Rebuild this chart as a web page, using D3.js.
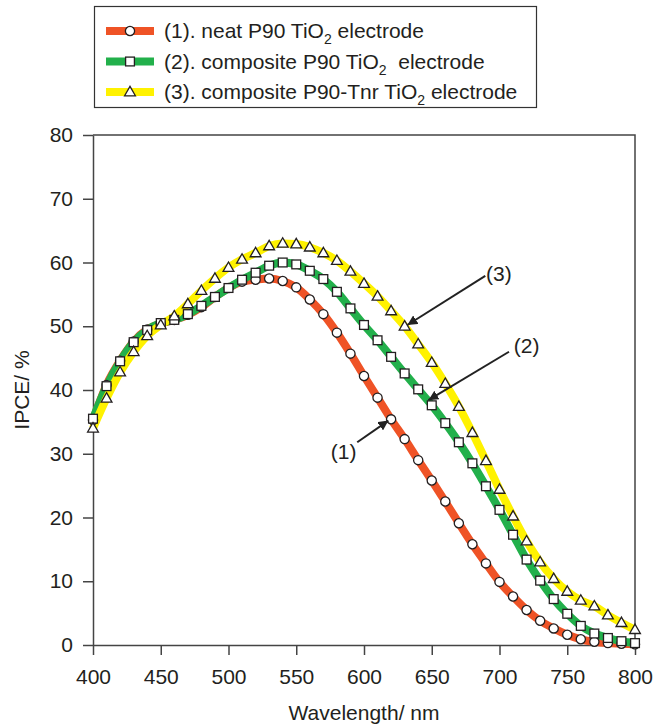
<!DOCTYPE html>
<html>
<head>
<meta charset="utf-8">
<script src="https://cdn.jsdelivr.net/npm/d3@7"></script>
<style>
  body { margin: 0; background: #fff; }
  svg { display: block; font-family: Arial, "Liberation Sans", sans-serif; }
</style>
</head>
<body>
<svg id="chart" width="666" height="725"></svg>
<script>
'use strict';

// wavelength (nm), one point every 10 nm
const wavelengths = [400, 410, 420, 430, 440, 450, 460, 470, 480, 490,
                     500, 510, 520, 530, 540, 550, 560, 570, 580, 590,
                     600, 610, 620, 630, 640, 650, 660, 670, 680, 690,
                     700, 710, 720, 730, 740, 750, 760, 770, 780, 790, 800];

// IPCE (%)
const neatP90 = [35.3, 40.8, 44.6, 47.6, 49.5, 50.4, 51.0, 51.8, 53.0, 54.6,
                 56.0, 57.0, 57.3, 57.5, 57.1, 56.1, 54.2, 51.9, 49.0, 45.7,
                 42.2, 38.8, 35.4, 32.3, 29.0, 25.8, 22.5, 19.1, 15.8, 12.8,
                 9.9, 7.6, 5.5, 3.8, 2.6, 1.6, 0.9, 0.5, 0.3, 0.2, 0.1];

const compositeP90 = [35.5, 40.6, 44.5, 47.5, 49.4, 50.5, 51.0, 51.9, 53.2, 54.6,
                      56.0, 57.3, 58.4, 59.5, 60.0, 59.7, 58.7, 57.4, 55.4, 52.8,
                      50.2, 47.8, 45.2, 42.6, 40.1, 37.6, 34.8, 31.8, 28.5, 24.9,
                      21.2, 17.3, 13.4, 10.1, 7.2, 4.9, 3.0, 1.8, 1.1, 0.6, 0.3];

const compositeTnr = [34.0, 38.7, 42.8, 46.0, 48.5, 50.2, 51.6, 53.5, 55.6, 57.5,
                      59.2, 60.5, 61.5, 62.6, 63.0, 62.9, 62.4, 61.5, 60.3, 58.6,
                      56.7, 54.7, 52.4, 50.0, 47.2, 44.3, 41.0, 37.4, 33.3, 28.9,
                      24.4, 20.2, 16.3, 13.0, 10.4, 8.4, 7.0, 6.1, 4.7, 3.5, 2.4];

const xTicks = [400, 450, 500, 550, 600, 650, 700, 750, 800];
const yTicks = [0, 10, 20, 30, 40, 50, 60, 70, 80];

const series = [
  {key: '1', label: ['(1). neat P90 TiO', '2', ' electrode'],          values: neatP90,      colour: '#ef5326', marker: 'circle'},
  {key: '2', label: ['(2). composite P90 TiO', '2', '  electrode'],    values: compositeP90, colour: '#22b04b', marker: 'square'},
  {key: '3', label: ['(3). composite P90-Tnr TiO', '2', ' electrode'], values: compositeTnr, colour: '#fff200', marker: 'triangle'},
];

// callouts: label position and arrow (from -> to) in data units
const callouts = [
  {text: '(1)', at: [585, 30.4],  from: [595, 31.8],  to: [618, 35.2]},
  {text: '(2)', at: [720, 46.9],  from: [707, 46.0],  to: [647.5, 38.4]},
  {text: '(3)', at: [699.5, 58.2], from: [689.5, 57.9], to: [632, 50.2]},
];

const svg = d3.select('#chart');
const margin = {left: 93, top: 135, right: 31, bottom: 80};
const width = 666 - margin.left - margin.right;
const height = 725 - margin.top - margin.bottom;
const axisColour = '#444';
const textColour = '#231f20';
const fontSize = '21px';

const x = d3.scaleLinear().domain([400, 800]).range([0, width]);
const y = d3.scaleLinear().domain([0, 80]).range([height, 0]);

svg.append('defs').append('marker')
    .attr('id', 'arrow')
    .attr('viewBox', '0 0 10 10')
    .attr('refX', 10).attr('refY', 5)
    .attr('markerWidth', 5).attr('markerHeight', 5)
    .attr('markerUnits', 'strokeWidth')
    .attr('orient', 'auto')
  .append('path')
    .attr('d', 'M0,0L10,5L0,10z')
    .attr('fill', '#222');

const g = svg.append('g')
    .attr('transform', `translate(${margin.left},${margin.top})`);

// frame (top + right)
g.append('path')
    .attr('d', `M0,0H${width}V${height}`)
    .attr('fill', 'none')
    .attr('stroke', axisColour)
    .attr('stroke-width', 1.5);

const xAxis = g.append('g')
    .attr('transform', `translate(0,${height})`)
    .call(d3.axisBottom(x).tickValues(xTicks).tickSize(10).tickSizeOuter(0).tickPadding(14));

const yAxis = g.append('g')
    .call(d3.axisLeft(y).tickValues(yTicks).tickSize(10).tickSizeOuter(0).tickPadding(10));

[xAxis, yAxis].forEach(a => {
  a.select('.domain').attr('stroke', axisColour).attr('stroke-width', 1.5);
  a.selectAll('.tick line').attr('stroke', axisColour).attr('stroke-width', 1.5);
  a.selectAll('.tick text')
      .attr('fill', textColour)
      .style('font-size', fontSize)
      .style('font-family', 'Arial, "Liberation Sans", sans-serif');
});

g.append('text')
    .attr('x', width / 2)
    .attr('y', height + 75)
    .attr('text-anchor', 'middle')
    .attr('fill', textColour)
    .style('font-size', fontSize)
    .text('Wavelength/ nm');

g.append('text')
    .attr('transform', `translate(${-64},${y(40)}) rotate(-90)`)
    .attr('text-anchor', 'middle')
    .attr('fill', textColour)
    .style('font-size', fontSize)
    .text('IPCE/ %');

const line = d3.line()
    .x((d, i) => x(wavelengths[i]))
    .y(d => y(d))
    .curve(d3.curveMonotoneX);

// thick coloured curves first
series.forEach(s => {
  g.append('path')
      .datum(s.values)
      .attr('d', line)
      .attr('fill', 'none')
      .attr('stroke', s.colour)
      .attr('stroke-width', 8)
      .attr('stroke-linecap', 'butt');
});

function drawMarker(sel, type) {
  if (type === 'circle') {
    sel.append('circle').attr('r', 4.6);
  } else if (type === 'square') {
    sel.append('rect').attr('x', -4.4).attr('y', -4.4).attr('width', 8.8).attr('height', 8.8);
  } else {
    sel.append('path').attr('d', 'M0,-5.6L5.4,3.8L-5.4,3.8Z');
  }
  sel.selectAll('*')
      .attr('fill', '#fff')
      .attr('stroke', '#231f20')
      .attr('stroke-width', 1.3);
}

series.forEach(s => {
  g.append('g')
    .selectAll('g')
    .data(s.values)
    .join('g')
      .attr('transform', (d, i) => `translate(${x(wavelengths[i])},${y(d)})`)
      .each(function() { drawMarker(d3.select(this), s.marker); });
});

// callout arrows and labels
callouts.forEach(c => {
  g.append('line')
      .attr('x1', x(c.from[0])).attr('y1', y(c.from[1]))
      .attr('x2', x(c.to[0])).attr('y2', y(c.to[1]))
      .attr('stroke', '#222')
      .attr('stroke-width', 2)
      .attr('marker-end', 'url(#arrow)');
  g.append('text')
      .attr('x', x(c.at[0])).attr('y', y(c.at[1]))
      .attr('dy', '0.35em')
      .attr('text-anchor', 'middle')
      .attr('fill', textColour)
      .style('font-size', fontSize)
      .text(c.text);
});

// legend
const legend = svg.append('g');
legend.append('rect')
    .attr('x', 94.5).attr('y', 6.5)
    .attr('width', 442).attr('height', 101)
    .attr('fill', '#fff')
    .attr('stroke', '#333')
    .attr('stroke-width', 1.2);

const rowY = d3.scalePoint().domain(series.map(s => s.key)).range([31, 92]);

series.forEach(s => {
  const row = legend.append('g').attr('transform', `translate(0,${rowY(s.key)})`);
  row.append('line')
      .attr('x1', 106).attr('x2', 154)
      .attr('stroke', s.colour)
      .attr('stroke-width', 8);
  drawMarker(row.append('g').attr('transform', 'translate(130,0)'), s.marker);
  const t = row.append('text')
      .attr('x', 164)
      .attr('dy', '0.35em')
      .attr('fill', textColour)
      .style('white-space', 'pre')
      .style('font-size', fontSize);
  t.append('tspan').text(s.label[0]);
  t.append('tspan').attr('dy', 6).style('font-size', '14px').text(s.label[1]);
  t.append('tspan').attr('dy', -6).text(s.label[2]);
});
</script>
</body>
</html>
